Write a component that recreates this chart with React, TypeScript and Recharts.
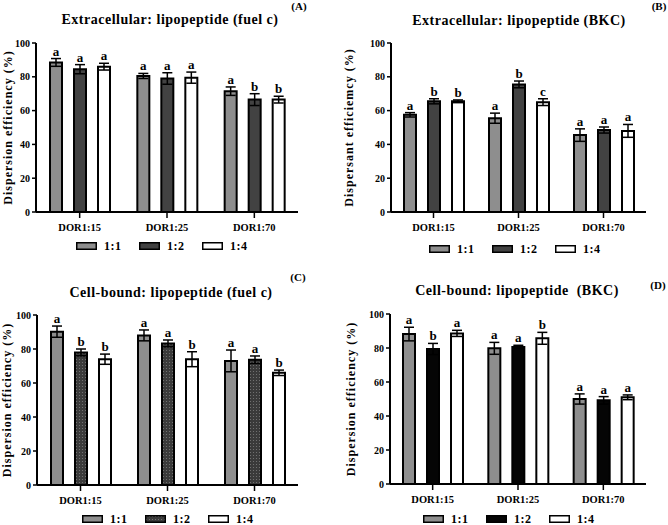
import React from 'react';
import { BarChart, Bar, XAxis, YAxis, ErrorBar, LabelList, Legend } from 'recharts';

const categories = ['DOR1:15', 'DOR1:25', 'DOR1:70'];
const ratios = ['1:1', '1:2', '1:4'];
const yTicks = [0, 20, 40, 60, 80, 100];

// Panel A: Extracellular, fuel c
const aMean11 = [88.5, 80.5, 71.5];
const aMean12 = [84.5, 79, 66.5];
const aMean14 = [86, 79.5, 66.5];
const aErr11 = [2.3, 1.5, 2.5];
const aErr12 = [2.7, 3.4, 3.5];
const aErr14 = [2, 3.3, 2];
const aSig11 = ['a', 'a', 'a'];
const aSig12 = ['a', 'a', 'b'];
const aSig14 = ['a', 'a', 'b'];

// Panel B: Extracellular, BKC
const bMean11 = [57.5, 55.5, 45.5];
const bMean12 = [65.5, 75.5, 48.5];
const bMean14 = [65.5, 65, 48];
const bErr11 = [1.3, 3, 3.7];
const bErr12 = [1.5, 2, 1.8];
const bErr14 = [0.8, 2, 3.8];
const bSig11 = ['a', 'a', 'a'];
const bSig12 = ['b', 'b', 'a'];
const bSig14 = ['b', 'c', 'a'];

// Panel C: Cell-bound, fuel c
const cMean11 = [90.2, 88, 73];
const cMean12 = [78, 83.3, 73.7];
const cMean14 = [74, 74, 66];
const cErr11 = [3.3, 3.2, 6.4];
const cErr12 = [2, 2, 2.2];
const cErr14 = [3, 4.4, 1.6];
const cSig11 = ['a', 'a', 'a'];
const cSig12 = ['b', 'a', 'a'];
const cSig14 = ['b', 'b', 'b'];

// Panel D: Cell-bound, BKC
const dMean11 = [88.2, 79.8, 50];
const dMean12 = [79.4, 80.6, 49.2];
const dMean14 = [88.6, 85.7, 51];
const dErr11 = [4, 3.5, 3];
const dErr12 = [3.3, 1, 2.2];
const dErr14 = [1.8, 3.5, 1.4];
const dSig11 = ['a', 'a', 'a'];
const dSig12 = ['b', 'a', 'a'];
const dSig14 = ['a', 'b', 'a'];

const FONT = '"Liberation Serif", "Times New Roman", serif';

type PanelCfg = {
  left: number;
  top: number;
  height: number;
  title: string;
  titleX: number;
  titleY: number;
  tag: string;
  tagX: number;
  tagY: number;
  yLabel: string;
  yLabelX: number;
  yAxisWidth: number;
  marginRight: number;
  marginTop: number;
  marginBottom: number;
  xAxisHeight: number;
  legendLeft: number;
  means: number[][];
  errs: number[][];
  sigs: string[][];
  fills: string[];
};

const buildData = (means: number[][], errs: number[][]) =>
  categories.map((cat, i) => ({
    cat,
    m0: means[0][i],
    m1: means[1][i],
    m2: means[2][i],
    e0: errs[0][i],
    e1: errs[1][i],
    e2: errs[2][i],
  }));

const makeSigLabel = (sig: string[], errArr: number[]) => (props: any) => {
  const { x, y, width, height, value, index } = props;
  if (value == null) return null;
  const pxPerUnit = Number(height) / Number(value);
  const errPx = errArr[index] * pxPerUnit;
  return (
    <text
      x={Number(x) + Number(width) / 2}
      y={Number(y) - errPx - 3}
      textAnchor="middle"
      fontFamily={FONT}
      fontWeight="bold"
      fontSize={13}
      fill="#000"
    >
      {sig[index]}
    </text>
  );
};

const LegendRow = ({ fills, leftPad }: { fills: string[]; leftPad: number }) => (
  <div style={{ display: 'flex', alignItems: 'center', height: 12, paddingLeft: leftPad }}>
    {ratios.map((r, i) => (
      <div key={r} style={{ display: 'flex', alignItems: 'center', width: 63 }}>
        <svg width={21} height={8} style={{ display: 'block' }}>
          <rect x={0.75} y={0.75} width={19.5} height={6.5} fill={fills[i]} stroke="#000" strokeWidth={1.5} />
        </svg>
        <span
          style={{
            marginLeft: 7,
            fontFamily: FONT,
            fontSize: 12,
            fontWeight: 'bold',
            color: '#000',
            lineHeight: '12px',
            letterSpacing: 0.5,
          }}
        >
          {r}
        </span>
      </div>
    ))}
  </div>
);

const Panel = ({ cfg }: { cfg: PanelCfg }) => {
  const data = buildData(cfg.means, cfg.errs);
  return (
    <div style={{ position: 'absolute', left: cfg.left, top: cfg.top, width: 334, height: cfg.height }}>
      <BarChart
        width={334}
        height={cfg.height}
        data={data}
        margin={{ top: cfg.marginTop, right: cfg.marginRight, bottom: cfg.marginBottom, left: 0 }}
        barSize={12}
        barGap={12}
      >
        <XAxis
          dataKey="cat"
          height={cfg.xAxisHeight}
          tickSize={6}
          tickMargin={6}
          axisLine={{ stroke: '#000', strokeWidth: 2 }}
          tickLine={{ stroke: '#000', strokeWidth: 1.5 }}
          tick={{ fill: '#000', fontSize: 10.5, fontWeight: 'bold', fontFamily: FONT }}
        />
        <YAxis
          width={cfg.yAxisWidth}
          domain={[0, 100]}
          ticks={yTicks}
          tickSize={4}
          tickMargin={2}
          axisLine={{ stroke: '#000', strokeWidth: 2 }}
          tickLine={{ stroke: '#000', strokeWidth: 1.5 }}
          tick={{ fill: '#000', fontSize: 10, fontWeight: 'bold', fontFamily: FONT }}
          label={{
            value: cfg.yLabel,
            angle: -90,
            position: 'insideLeft',
            offset: cfg.yLabelX,
            style: { textAnchor: 'middle', fontSize: 12, fontWeight: 'bold', fontFamily: FONT, fill: '#000', letterSpacing: 1 },
          }}
        />
        <Legend
          verticalAlign="bottom"
          height={12}
          content={() => <LegendRow fills={cfg.fills} leftPad={cfg.legendLeft} />}
        />
        {[0, 1, 2].map((k) => (
          <Bar
            key={k}
            dataKey={`m${k}`}
            name={ratios[k]}
            fill={cfg.fills[k]}
            stroke="#000"
            strokeWidth={2}
            isAnimationActive={false}
          >
            <ErrorBar dataKey={`e${k}`} width={5} stroke="#000" strokeWidth={1.5} direction="y" />
            <LabelList dataKey={`m${k}`} content={makeSigLabel(cfg.sigs[k], cfg.errs[k])} />
          </Bar>
        ))}
      </BarChart>
      <svg width={334} height={cfg.height} style={{ position: 'absolute', left: 0, top: 0, pointerEvents: 'none' }}>
        <text x={cfg.titleX} y={cfg.titleY} textAnchor="middle" dominantBaseline="central" fontFamily={FONT} fontWeight="bold" fontSize={14} letterSpacing={0.5} fill="#000">
          {cfg.title}
        </text>
        <text x={cfg.tagX} y={cfg.tagY} textAnchor="middle" dominantBaseline="central" fontFamily={FONT} fontWeight="bold" fontSize={11} fill="#000">
          {cfg.tag}
        </text>
      </svg>
    </div>
  );
};

const GRAY = '#8e8e8e';
const DARK = '#424242';
const BLACK = '#050505';
const WHITE = '#ffffff';

const panels: PanelCfg[] = [
  {
    left: 0, top: 0, height: 262,
    title: 'Extracellular: lipopeptide (fuel c)', titleX: 170, titleY: 19,
    tag: '(A)', tagX: 299, tagY: 6,
    yLabel: 'Dispersion efficiency (%)', yLabelX: 8,
    yAxisWidth: 36, marginRight: 36, marginTop: 43, marginBottom: 10, xAxisHeight: 28,
    legendLeft: 76,
    means: [aMean11, aMean12, aMean14], errs: [aErr11, aErr12, aErr14], sigs: [aSig11, aSig12, aSig14],
    fills: [GRAY, DARK, WHITE],
  },
  {
    left: 334, top: 0, height: 262,
    title: 'Extracellular: lipopeptide (BKC)', titleX: 185, titleY: 20,
    tag: '(B)', tagX: 325, tagY: 6,
    yLabel: 'Dispersant efficiemcy (%)', yLabelX: 15,
    yAxisWidth: 57, marginRight: 22, marginTop: 43, marginBottom: 7, xAxisHeight: 31,
    legendLeft: 95,
    means: [bMean11, bMean12, bMean14], errs: [bErr11, bErr12, bErr14], sigs: [bSig11, bSig12, bSig14],
    fills: [GRAY, DARK, WHITE],
  },
  {
    left: 0, top: 262, height: 263,
    title: 'Cell-bound: lipopeptide (fuel c)', titleX: 171, titleY: 30,
    tag: '(C)', tagX: 298, tagY: 15,
    yLabel: 'Dispersion efficiency (%)', yLabelX: 7,
    yAxisWidth: 37, marginRight: 36, marginTop: 53, marginBottom: 0, xAxisHeight: 28,
    legendLeft: 82,
    means: [cMean11, cMean12, cMean14], errs: [cErr11, cErr12, cErr14], sigs: [cSig11, cSig12, cSig14],
    fills: [GRAY, 'url(#dotFill)', WHITE],
  },
  {
    left: 334, top: 262, height: 263,
    title: 'Cell-bound: lipopeptide\u00a0 (BKC)', titleX: 183, titleY: 28,
    tag: '(D)', tagX: 324, tagY: 23,
    yLabel: 'Dispersion efficiency (%)', yLabelX: 17,
    yAxisWidth: 56, marginRight: 22, marginTop: 52, marginBottom: 0, xAxisHeight: 29,
    legendLeft: 89,
    means: [dMean11, dMean12, dMean14], errs: [dErr11, dErr12, dErr14], sigs: [dSig11, dSig12, dSig14],
    fills: [GRAY, BLACK, WHITE],
  },
];

export default function App() {
  return (
    <div style={{ position: 'absolute', left: 0, top: 0, width: 668, height: 525, background: '#fff', overflow: 'hidden' }}>
      <svg width={0} height={0} style={{ position: 'absolute' }}>
        <defs>
          <pattern id="dotFill" width={3} height={3} patternUnits="userSpaceOnUse">
            <rect x={0} y={0} width={3} height={3} fill="#3a3a3a" />
            <circle cx={1.5} cy={1.5} r={0.55} fill="#7a7a7a" />
          </pattern>
        </defs>
      </svg>
      {panels.map((p) => (
        <Panel key={p.tag} cfg={p} />
      ))}
    </div>
  );
}
